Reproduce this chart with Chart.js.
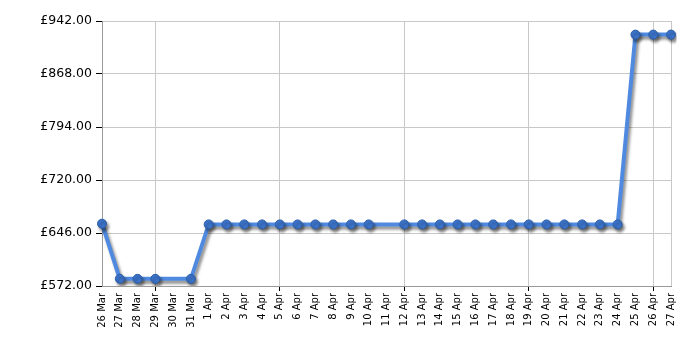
<!DOCTYPE html>
<html>
<head>
<meta charset="utf-8">
<script src="https://cdn.jsdelivr.net/npm/chart.js@4/dist/chart.umd.min.js"></script>
<style>
html,body{margin:0;padding:0;background:#fff;}
#wrap{width:700px;height:350px;}
</style>
</head>
<body>
<div id="wrap"><canvas id="c" width="700" height="350"></canvas></div>
<script>
const dates = ["26 Mar","27 Mar","28 Mar","29 Mar","30 Mar","31 Mar","1 Apr","2 Apr","3 Apr","4 Apr","5 Apr","6 Apr","7 Apr","8 Apr","9 Apr","10 Apr","11 Apr","12 Apr","13 Apr","14 Apr","15 Apr","16 Apr","17 Apr","18 Apr","19 Apr","20 Apr","21 Apr","22 Apr","23 Apr","24 Apr","25 Apr","26 Apr","27 Apr"];
const prices = [659,582,582,582,null,582,658,658,658,658,658,658,658,658,658,658,null,658,658,658,658,658,658,658,658,658,658,658,658,658,923,923,923];
const yTicks = [572,646,720,794,868,942];

const shadowPlugin = {
  id:'shadow',
  beforeDatasetDraw(chart){
    const ctx=chart.ctx; ctx.save();
    ctx.shadowColor='rgba(0,0,0,0.45)';
    ctx.shadowOffsetX=2; ctx.shadowOffsetY=3; ctx.shadowBlur=3;
  },
  afterDatasetDraw(chart){ chart.ctx.restore(); }
};

const isGrid = i => (i-3)%7===0;

new Chart(document.getElementById('c'),{
  type:'line',
  data:{labels:dates,datasets:[{
    data:prices,
    borderColor:'#4f8ae0',
    borderWidth:4,
    spanGaps:true,
    tension:0,
    pointRadius:4.5,
    pointBackgroundColor:'#3d75cc',
    pointBorderColor:'#2a5ca8',
    pointBorderWidth:1
  }]},
  options:{
    responsive:false,
    animation:false,
    layout:{padding:{left:0,right:29,top:21,bottom:0}},
    plugins:{legend:{display:false},tooltip:{enabled:false}},
    scales:{
      x:{
        offset:false,
        afterFit(s){ s.height=64; },
        grid:{
          color:(c)=> (isGrid(c.index)||c.index===dates.length-1)?'#c8c8c8':'rgba(0,0,0,0)',
          tickColor:(c)=> isGrid(c.index)?'#000':'rgba(0,0,0,0)',
          tickLength:5,
          drawOnChartArea:true
        },
        border:{color:'#999',width:1},
        ticks:{
          autoSkip:false,
          maxRotation:90,minRotation:90,
          color:'#000',
          padding:2,
          font:{family:'DejaVu Sans',size:10}
        }
      },
      y:{
        min:572,max:942,
        afterFit(s){ s.width=102; },
        afterBuildTicks(s){ s.ticks = yTicks.map(v=>({value:v})); },
        grid:{color:'#c8c8c8',tickColor:'#000',tickLength:6},
        border:{color:'#999',width:1},
        ticks:{
          color:'#000',
          padding:4,
          font:{family:'DejaVu Sans',size:12.5},
          callback:v=>'£'+Number(v).toFixed(2)
        }
      }
    }
  },
  plugins:[shadowPlugin]
});
</script>
</body>
</html>
